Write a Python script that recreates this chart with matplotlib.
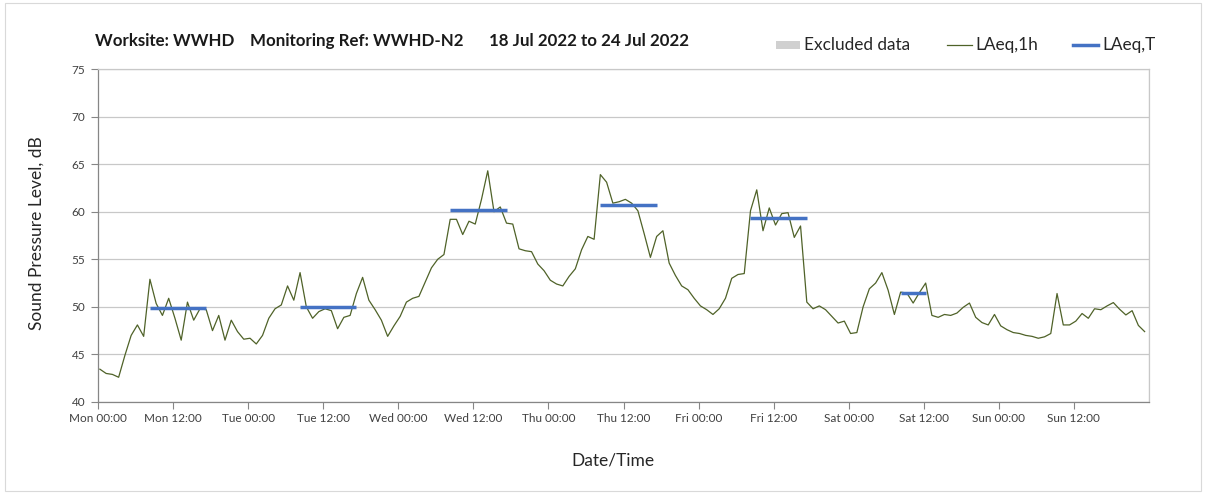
import numpy as np
import matplotlib
matplotlib.use("Agg")
import matplotlib.pyplot as plt
from matplotlib.patches import Rectangle
from matplotlib.lines import Line2D

plt.rcParams['font.family'] = ['Lato', 'DejaVu Sans']

# ---- data ----
days = ['Mon', 'Tue', 'Wed', 'Thu', 'Fri', 'Sat', 'Sun']
clock = ['00:00', '12:00']

laeq_1h = [
    43.45, 43.0, 42.9, 42.6, 44.9, 47.0, 48.1, 46.9, 52.9, 50.35, 49.1, 50.9,
    48.8, 46.5, 50.5, 48.6, 49.8, 49.7, 47.5, 49.1, 46.5, 48.6, 47.4, 46.6,
    46.7, 46.1, 47.0, 48.8, 49.8, 50.2, 52.2, 50.7, 53.6, 50.0, 48.8, 49.5,
    49.8, 49.6, 47.7, 48.9, 49.1, 51.4, 53.1, 50.7, 49.7, 48.6, 46.9, 48.0,
    49.0, 50.5, 50.9, 51.1, 52.6, 54.1, 55.0, 55.5, 59.2, 59.2, 57.6, 59.0,
    58.7, 61.3, 64.3, 60.0, 60.5, 58.8, 58.7, 56.1, 55.9, 55.8, 54.5, 53.8,
    52.8, 52.4, 52.2, 53.2, 54.0, 56.0, 57.4, 57.1, 63.9, 63.1, 60.9, 61.05,
    61.3, 60.9, 60.1, 57.7, 55.2, 57.4, 58.0, 54.6, 53.3, 52.2, 51.8, 50.9,
    50.1, 49.7, 49.2, 49.8, 50.9, 53.0, 53.4, 53.5, 60.1, 62.3, 58.0, 60.4,
    58.6, 59.8, 59.9, 57.3, 58.5, 50.5, 49.8, 50.1, 49.7, 49.0, 48.3, 48.5,
    47.2, 47.3, 50.0, 51.9, 52.5, 53.6, 51.75, 49.2, 51.55, 51.45, 50.4, 51.5,
    52.5, 49.1, 48.9, 49.2, 49.1, 49.35, 49.95, 50.4, 48.9, 48.35, 48.1, 49.2,
    48.0, 47.6, 47.3, 47.2, 47.0, 46.9, 46.7, 46.85, 47.2, 51.4, 48.1, 48.1,
    48.5, 49.3, 48.8, 49.8, 49.7, 50.1, 50.45, 49.75, 49.15, 49.6, 48.05, 47.4,
]
hours = np.arange(len(laeq_1h))          # hourly timestamps from Mon 00:00

laeq_t_start = [8, 32, 56, 80, 104, 128]   # hour of period start
laeq_t_end = [17, 41, 65, 89, 113, 132]    # hour of period end
laeq_t = [49.9, 50.0, 60.2, 60.75, 59.3, 51.5]

TIME_OFFSET = 0.3

# ---- figure ----
W, H = 1208, 493
fig = plt.figure(figsize=(W / 100, H / 100), dpi=100)
fig.patches.append(Rectangle((5 / W, 2 / H), 1196 / W, 488 / H, transform=fig.transFigure,
                             fill=False, edgecolor='#d9d9d9', linewidth=0.8))

ax = fig.add_axes([98 / W, 1 - 402 / H, (1149 - 98) / W, (402 - 69) / H])

green = '#4f6228'
blue = '#4472c4'

ax.plot(hours + TIME_OFFSET, laeq_1h, color=green, linewidth=0.9, zorder=3)
for s, e, v in zip(laeq_t_start, laeq_t_end, laeq_t):
    ax.plot([s + TIME_OFFSET, e + TIME_OFFSET], [v, v], color=blue, linewidth=2.5,
            solid_capstyle='butt', zorder=4)

ax.set_xlim(0, 168)
ax.set_ylim(40, 75)

major_x = np.arange(0, 168, 12)
labels = [f"{days[int(h // 24)]} {clock[int((h % 24) // 12)]}" for h in major_x]
ax.set_xticks(major_x)
ax.set_xticklabels(labels)
ax.set_xticks(np.arange(24, 169, 24), minor=True)
ax.tick_params(axis='x', which='minor', length=0)
ax.tick_params(axis='x', which='major', length=5, width=0.8, color='#868686',
               labelsize=8.5, labelcolor='#404040', pad=3)
ax.set_yticks(np.arange(40, 76, 5))
ax.tick_params(axis='y', length=5, width=0.8, color='#868686',
               labelsize=8.5, labelcolor='#404040', pad=4)

ax.grid(which='minor', axis='x', color='#d9d9d9', linewidth=0.9)
ax.grid(which='major', axis='y', color='#c8c8c8', linewidth=0.9)
ax.set_axisbelow(True)
for side in ['top', 'right']:
    ax.spines[side].set_color('#c8c8c8')
    ax.spines[side].set_linewidth(0.9)
for side in ['left', 'bottom']:
    ax.spines[side].set_color('#868686')
    ax.spines[side].set_linewidth(0.9)

fig.text(37 / W, 1 - 233 / H, 'Sound Pressure Level, dB', rotation=90, ha='center', va='center',
         fontsize=12.5, color='#262626')
fig.text(613 / W, 1 - 461 / H, 'Date/Time', ha='center', va='center', fontsize=12.5, color='#262626')

# title pieces
ty = 1 - 41 / H
tkw = dict(ha='left', va='center', fontsize=12.2, fontweight='bold', color='#1a1a1a')
fig.text(95 / W, ty, 'Worksite: WWHD', **tkw)
fig.text(250 / W, ty, 'Monitoring Ref: WWHD-N2', **tkw)
fig.text(489 / W, ty, '18 Jul 2022 to 24 Jul 2022', **tkw)

# legend
ly = 1 - 45 / H
lkw = dict(ha='left', va='center', fontsize=12.4, color='#262626')
fig.patches.append(Rectangle((776 / W, 1 - 49 / H), 24 / W, 8 / H, transform=fig.transFigure,
                             facecolor='#d0d0d0', edgecolor='none'))
fig.text(804 / W, ly, 'Excluded data', **lkw)
fig.lines.append(Line2D([947 / W, 972 / W], [ly, ly], transform=fig.transFigure, color=green, linewidth=0.9))
fig.text(975 / W, ly, 'LAeq,1h', **lkw)
fig.lines.append(Line2D([1073 / W, 1098 / W], [ly, ly], transform=fig.transFigure, color=blue, linewidth=2.5))
fig.text(1102 / W, ly, 'LAeq,T', **lkw)

fig.savefig('out.png', dpi=100)
